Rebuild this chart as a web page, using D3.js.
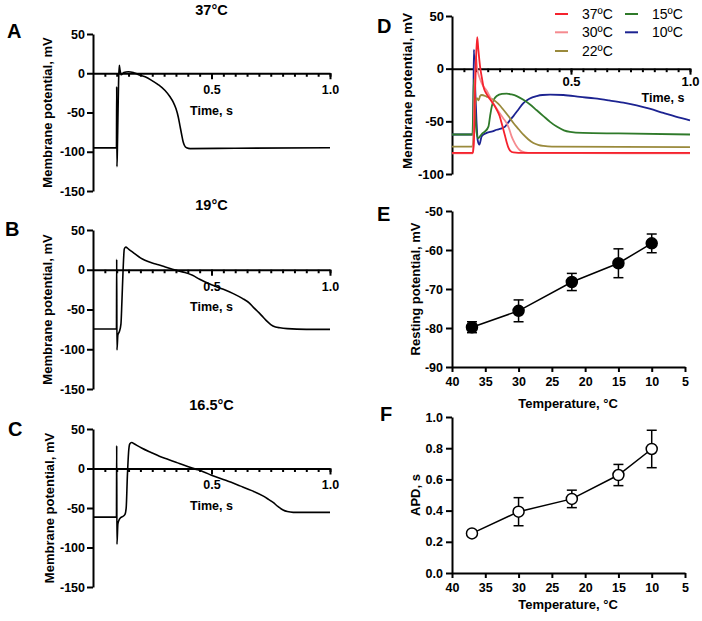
<!DOCTYPE html>
<html>
<head>
<meta charset="utf-8">
<script src="https://cdn.jsdelivr.net/npm/d3@7"></script>
<style>
body { margin: 0; background: #fff; }
text { font-family: "Liberation Sans", Arial, sans-serif; fill: #000; }
</style>
</head>
<body>
<div id="fig"></div>
<script>
// ---- traces: [time s, membrane potential mV] ----
const trace37 = [[0,-95],[0.099,-95],[0.100,-17],[0.101,-119],[0.103,-95],[0.105,-60],[0.108,-10],[0.111,10],[0.114,4],
  [0.119,-2],[0.13,1],[0.149,2],[0.17,1],[0.19,-1.5],[0.22,-4.5],[0.247,-9],[0.275,-14.5],[0.304,-22],[0.325,-30],
  [0.339,-37],[0.35,-45],[0.36,-56],[0.367,-67],[0.374,-78],[0.38,-87],[0.386,-92],[0.395,-95],[0.41,-96],[0.6,-95.5],[1.0,-95]];

const trace19 = [[0,-74.5],[0.099,-74.5],[0.100,13],[0.101,-101],[0.105,-82],[0.111,-78],[0.118,-68],[0.122,-40],[0.127,0],
  [0.132,26],[0.138,28.5],[0.15,26],[0.177,20],[0.2,15],[0.219,12],[0.25,8.5],[0.276,6.3],[0.305,3.5],[0.332,1],[0.36,-1.5],
  [0.388,-3.5],[0.42,-7],[0.45,-12],[0.5,-19],[0.55,-24.5],[0.592,-30],[0.63,-36],[0.66,-42],[0.676,-47],[0.7,-54],
  [0.719,-60],[0.735,-65],[0.75,-69],[0.77,-72],[0.789,-73],[0.82,-74],[0.9,-75],[1.0,-75]];

const trace16 = [[0,-61.5],[0.099,-61.5],[0.100,29],[0.101,-96],[0.105,-70],[0.111,-64.5],[0.118,-62],[0.124,-61],[0.135,-58],
  [0.14,-50],[0.145,-10],[0.15,20],[0.155,31],[0.163,33],[0.175,31],[0.205,26],[0.247,20],[0.28,15.5],[0.318,11.4],[0.35,8],
  [0.388,3.8],[0.43,-0.5],[0.465,-4],[0.5,-8.5],[0.56,-15],[0.62,-22],[0.67,-28],[0.719,-35],[0.74,-39],[0.76,-43],
  [0.78,-48],[0.802,-52.5],[0.82,-54.5],[0.845,-55.5],[0.9,-55.5],[1.0,-55.5]];

const d37 = [[0,-80],[0.088,-80],[0.092,-70],[0.097,-20],[0.102,15],[0.106,30],[0.11,20],[0.118,2],[0.125,-8],[0.132,-17],
  [0.145,-24],[0.16,-29],[0.175,-34],[0.188,-39],[0.2,-45],[0.209,-52],[0.216,-58],[0.223,-64],[0.23,-70],[0.237,-75],
  [0.245,-78],[0.258,-79.5],[0.3,-80],[1.0,-80]];
const d30 = [[0,-80.5],[0.086,-80.5],[0.09,-70],[0.095,-20],[0.1,12],[0.106,0],[0.115,-8],[0.125,-14],[0.146,-21],[0.16,-27],
  [0.174,-33],[0.2,-42],[0.215,-47],[0.23,-52],[0.24,-57],[0.25,-64],[0.262,-70],[0.272,-74],[0.283,-77],[0.293,-78.5],
  [0.32,-80],[1.0,-80.5]];
const d22 = [[0,-74],[0.086,-74],[0.09,-65],[0.097,-35],[0.105,-28],[0.112,-30],[0.118,-26],[0.125,-25],[0.145,-26.5],
  [0.174,-29.5],[0.195,-33.5],[0.216,-39],[0.237,-45],[0.258,-51.6],[0.28,-57.5],[0.3,-62.7],[0.32,-67],[0.342,-70.6],
  [0.365,-72.5],[0.384,-73.3],[0.42,-74],[1.0,-74.5]];
const d15 = [[0,-62.5],[0.086,-62.5],[0.089,-40],[0.092,-10],[0.096,-35],[0.103,-60],[0.11,-66],[0.118,-64],[0.13,-61],
  [0.139,-59.5],[0.153,-55],[0.16,-45],[0.167,-36],[0.177,-29],[0.188,-26],[0.21,-24],[0.23,-23.7],[0.25,-24.5],[0.272,-26],
  [0.3,-29.5],[0.328,-34],[0.356,-39.5],[0.384,-45],[0.412,-50.5],[0.44,-55],[0.47,-58.5],[0.496,-60],[0.55,-61],
  [0.7,-61.5],[1.0,-62.5]];
const d10 = [[0,-62.5],[0.088,-62.5],[0.09,-30],[0.092,18],[0.096,-10],[0.103,-50],[0.108,-68],[0.115,-72],[0.125,-64],
  [0.146,-61],[0.17,-59.5],[0.188,-58],[0.205,-57],[0.223,-55],[0.24,-50],[0.258,-45],[0.28,-38.5],[0.3,-32.6],
  [0.325,-28.5],[0.356,-26],[0.38,-25],[0.412,-24.7],[0.468,-25],[0.538,-26.8],[0.6,-28.3],[0.66,-30.2],[0.72,-32.3],
  [0.776,-34.8],[0.83,-38],[0.888,-42],[0.94,-45.5],[1.0,-49]];

const legendNames = ["37ºC", "30ºC", "22ºC", "15ºC", "10ºC"];
const legendColors = ["#f5222d", "#f58a8f", "#9a8a3c", "#2f7a2a", "#1c2391"];

// ---- summary data ----
const temps = [37, 30, 22, 15, 10];
const restMean = [-79.8, -75.6, -68.2, -63.4, -58.3];
const restErr = [1.4, 2.8, 2.2, 3.7, 2.4];
const apdMean = [0.254, 0.393, 0.475, 0.628, 0.795];
const apdErr = [0.012, 0.09, 0.056, 0.068, 0.12];

const mvTicks = [50, 0, -50, -100, -150];
const mvTicksD = [50, 0, -50, -100];
const restTicks = [-50, -60, -70, -80, -90];
const apdTicks = [0, 0.2, 0.4, 0.6, 0.8, 1.0];
const tempTicks = [40, 35, 30, 25, 20, 15, 10, 5];
const timeMinor = d3.range(1, 21).map(i => i * 0.05);

// plain hyphen for negatives, like the original figure
const loc = d3.formatLocale({ decimal: ".", thousands: ",", grouping: [3], currency: ["", ""], minus: "-" });
const fmtInt = loc.format("d");

const svg = d3.select("#fig").append("svg").attr("width", 702).attr("height", 621);

function styleAxis(sel, size) {
  sel.select(".domain").attr("stroke", "#000").attr("stroke-width", 2);
  sel.selectAll(".tick line").attr("stroke", "#000").attr("stroke-width", 2);
  sel.selectAll(".tick text").style("font-size", size + "px").style("font-weight", "bold").attr("fill", "#000");
}

function letter(txt, x, y) {
  svg.append("text").attr("x", x).attr("y", y).style("font-size", "20px").style("font-weight", "bold").text(txt);
}

const line = d3.line().curve(d3.curveMonotoneX);

// ---- panels A, B, C ----
function tracePanel(cfg) {
  const x = d3.scaleLinear().domain([0, 1]).range([93, 330]);
  const y = d3.scaleLinear().domain([-150, 50]).range([cfg.bottom, cfg.top]);
  const g = svg.append("g");

  g.append("g").attr("transform", `translate(${x(0)},0)`)
    .call(d3.axisLeft(y).tickValues(mvTicks).tickSize(6).tickSizeOuter(0).tickPadding(2).tickFormat(fmtInt))
    .call(styleAxis, 12.5);

  g.append("g").attr("transform", `translate(0,${y(0)})`)
    .call(d3.axisBottom(x).tickValues(timeMinor).tickSize(3.5).tickSizeOuter(0).tickFormat(""))
    .call(styleAxis, 12.5);
  g.append("g").attr("transform", `translate(0,${y(0)})`)
    .call(d3.axisBottom(x).tickValues([0.5, 1.0]).tickSize(6).tickPadding(6).tickFormat(d3.format(".1f")))
    .call(styleAxis, 12.5)
    .call(a => a.select(".domain").remove());

  g.append("path").datum(cfg.data)
    .attr("d", line.x(d => x(d[0])).y(d => y(d[1])))
    .attr("fill", "none").attr("stroke", "#000").attr("stroke-width", 1.6);

  g.append("text").attr("x", x(0.5)).attr("y", cfg.titleY).attr("text-anchor", "middle")
    .style("font-size", "14.5px").style("font-weight", "bold").text(cfg.title);
  g.append("text").attr("x", x(0.5)).attr("y", cfg.timeY).attr("text-anchor", "middle")
    .style("font-size", "12.5px").style("font-weight", "bold").text("Time, s");
  g.append("text").attr("transform", `translate(${cfg.labX},${(cfg.top + cfg.bottom) / 2})rotate(-90)`)
    .attr("text-anchor", "middle").attr("dy", "0.35em")
    .style("font-size", "13px").style("font-weight", "bold").text("Membrane potential, mV");
  letter(cfg.letter, cfg.letterX, cfg.letterY);
}

tracePanel({ data: trace37, top: 34, bottom: 191, title: "37°C", titleY: 15, timeY: 114.5, labX: 47, letter: "A", letterX: 7, letterY: 38 });
tracePanel({ data: trace19, top: 230, bottom: 389, title: "19°C", titleY: 210, timeY: 311, labX: 47, letter: "B", letterX: 5, letterY: 236 });
tracePanel({ data: trace16, top: 429, bottom: 587, title: "16.5°C", titleY: 410, timeY: 509.5, labX: 49, letter: "C", letterX: 8, letterY: 436 });

// ---- panel D ----
{
  const x = d3.scaleLinear().domain([0, 1]).range([452, 690]);
  const y = d3.scaleLinear().domain([-100, 50]).range([174, 16]);
  const g = svg.append("g");

  g.append("g").attr("transform", `translate(${x(0)},0)`)
    .call(d3.axisLeft(y).tickValues(mvTicksD).tickSize(6).tickSizeOuter(0).tickPadding(2).tickFormat(fmtInt))
    .call(styleAxis, 13);
  g.append("g").attr("transform", `translate(0,${y(0)})`)
    .call(d3.axisBottom(x).tickValues(timeMinor).tickSize(3.5).tickSizeOuter(0).tickFormat(""))
    .call(styleAxis, 13);
  g.append("g").attr("transform", `translate(0,${y(0)})`)
    .call(d3.axisBottom(x).tickValues([0.5, 1.0]).tickSize(6).tickPadding(2).tickFormat(d3.format(".1f")))
    .call(styleAxis, 13)
    .call(a => a.select(".domain").remove());

  const traces = [d37, d30, d22, d15, d10];
  // draw in the order that puts the warm traces on top
  [4, 3, 2, 1, 0].forEach(i => {
    g.append("path").datum(traces[i])
      .attr("d", line.x(d => x(d[0])).y(d => y(d[1])))
      .attr("fill", "none").attr("stroke", legendColors[i]).attr("stroke-width", 1.8);
  });

  g.append("text").attr("x", 663).attr("y", 101.5).attr("text-anchor", "middle")
    .style("font-size", "12.5px").style("font-weight", "bold").text("Time, s");
  g.append("text").attr("transform", `translate(407,${(16 + 174) / 2 - 4})rotate(-90)`)
    .attr("text-anchor", "middle").attr("dy", "0.35em")
    .style("font-size", "13.5px").style("font-weight", "bold").text("Membrane potential, mV");

  const legPos = [[555, 14], [555, 32.3], [555, 51], [625, 14], [625, 32.3]];
  legendNames.forEach((name, i) => {
    const [lx, ly] = legPos[i];
    g.append("line").attr("x1", lx).attr("x2", lx + 13).attr("y1", ly).attr("y2", ly)
      .attr("stroke", legendColors[i]).attr("stroke-width", 2);
    g.append("text").attr("x", lx + 27).attr("y", ly).attr("dy", "0.35em")
      .style("font-size", "14px").text(name);
  });
  letter("D", 377, 33);
}

// ---- panels E and F ----
function summaryPanel(cfg) {
  const x = d3.scaleLinear().domain([40, 5]).range([452, 685]);
  const y = d3.scaleLinear().domain(cfg.domain).range([cfg.bottom, cfg.top]);
  const g = svg.append("g");

  g.append("g").attr("transform", `translate(452,0)`)
    .call(d3.axisLeft(y).tickValues(cfg.ticks).tickSize(6).tickSizeOuter(0).tickPadding(3).tickFormat(cfg.fmt))
    .call(styleAxis, 12.5);
  g.append("g").attr("transform", `translate(0,${cfg.bottom})`)
    .call(d3.axisBottom(x).tickValues(tempTicks).tickSize(5).tickSizeOuter(0).tickPadding(5))
    .call(styleAxis, 12.5);

  const pts = temps.map((t, i) => ({ t, m: cfg.mean[i], e: cfg.err[i] }));
  g.append("path").datum(pts)
    .attr("d", d3.line().x(d => x(d.t)).y(d => y(d.m)))
    .attr("fill", "none").attr("stroke", "#000").attr("stroke-width", 1.5);

  const eb = g.selectAll(".eb").data(pts).enter().append("g");
  eb.append("line").attr("x1", d => x(d.t)).attr("x2", d => x(d.t))
    .attr("y1", d => y(d.m - d.e)).attr("y2", d => y(d.m + d.e))
    .attr("stroke", "#000").attr("stroke-width", 1.5);
  [1, -1].forEach(s => {
    eb.append("line").attr("x1", d => x(d.t) - 5).attr("x2", d => x(d.t) + 5)
      .attr("y1", d => y(d.m + s * d.e)).attr("y2", d => y(d.m + s * d.e))
      .attr("stroke", "#000").attr("stroke-width", 1.5);
  });
  g.selectAll(".pt").data(pts).enter().append("circle")
    .attr("cx", d => x(d.t)).attr("cy", d => y(d.m)).attr("r", 5.5)
    .attr("fill", cfg.filled ? "#000" : "#fff").attr("stroke", "#000").attr("stroke-width", 1.5);

  g.append("text").attr("x", 568).attr("y", cfg.labY).attr("text-anchor", "middle")
    .style("font-size", "13px").style("font-weight", "bold").text("Temperature, °C");
  g.append("text").attr("transform", `translate(415,${(cfg.top + cfg.bottom) / 2})rotate(-90)`)
    .attr("text-anchor", "middle").attr("dy", "0.35em")
    .style("font-size", "13px").style("font-weight", "bold").text(cfg.yLabel);
  letter(cfg.letter, cfg.letterX, cfg.letterY);
}

summaryPanel({ domain: [-90, -50], top: 211, bottom: 367, ticks: restTicks, fmt: fmtInt,
  mean: restMean, err: restErr, filled: true, labY: 408, yLabel: "Resting potential, mV",
  letter: "E", letterX: 377, letterY: 221 });
summaryPanel({ domain: [0, 1], top: 417, bottom: 573, ticks: apdTicks, fmt: d3.format(".1f"),
  mean: apdMean, err: apdErr, filled: false, labY: 609, yLabel: "APD, s",
  letter: "F", letterX: 380, letterY: 421 });
</script>
</body>
</html>
